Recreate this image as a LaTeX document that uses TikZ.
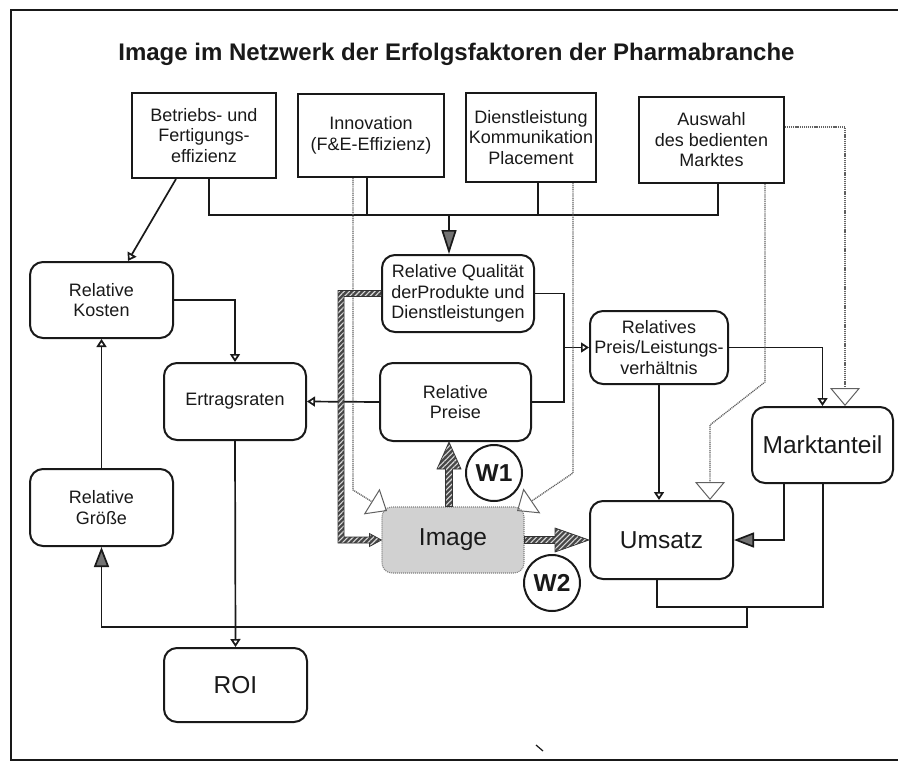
\documentclass[tikz,border=0pt]{standalone}
\usepackage{fontspec}
\setmainfont{Liberation Sans}
\usetikzlibrary{arrows.meta,calc,patterns.meta}
\definecolor{ink}{gray}{0.1}
\newcommand\dgBoxFont{\fontsize{18}{20.5}\selectfont}
\newcommand\dgBigFont{\fontsize{24.5}{27}\selectfont}

\begin{document}
\begin{tikzpicture}[x=1pt,y=-1pt,
  sqbox/.style={draw=ink, line width=2pt, align=center, inner sep=0pt, font=\dgBoxFont, text=ink},
  rbox/.style={sqbox, rounded corners=13pt},
  big/.style={font=\dgBigFont},
  imgbox/.style={fill=black!18, draw=black!50, line width=1.1pt, dash pattern=on 1pt off 1pt,
                 rounded corners=10pt, inner sep=0pt, font=\dgBigFont, text=ink},
  ring/.style={circle, draw=ink, line width=2pt, minimum size=56pt, inner sep=0pt,
               font=\bfseries\dgBigFont, text=ink},
  conn/.style={draw=ink, line width=1.7pt},
  opentip/.style={-{Triangle[open,length=8pt,width=10pt]}},
  filledtip/.style={-{Triangle[length=20pt,width=15pt,fill=black!55]}},
  bigtip/.style={-{Triangle[length=24pt,width=15pt,fill=black!55]}},
  hint/.style={draw=black!62, line width=1.3pt, dash pattern=on 1.1pt off 0.8pt,
               -{Triangle[open,length=18pt,width=30pt,line width=1pt]}},
  hatch/.style={preaction={fill=black!72},
                pattern={Lines[angle=45,distance=3.6pt,line width=1.1pt]},
                pattern color=white!85!black, draw=black!80, line width=0.7pt}
]
\useasboundingbox (0,0) rectangle (898,763);

% frame
\draw[ink, line width=2pt] (898,10) -- (11,10) -- (11,760) -- (898,760);

% title
\node[font=\bfseries\fontsize{24}{28}\selectfont, text=ink, anchor=base] (title) at (456.5,60)
  {Image im Netzwerk der Erfolgsfaktoren der Pharmabranche};

% success factors (top row)
\node[sqbox, minimum width=144pt, minimum height=85pt] (betr) at (204,135.5) {Betriebs- und\\Fertigungs-\\effizienz};
\node[sqbox, minimum width=146pt, minimum height=83pt] (inno) at (371,135.5) {Innovation\\(F\&E-Effizienz)};
\node[sqbox, minimum width=130pt, minimum height=89pt] (dienst) at (531,137.5) {Dienstleistung\\Kommunikation\\Placement};
\node[sqbox, minimum width=145pt, minimum height=86pt] (auswahl) at (711.5,140) {Auswahl\\des bedienten\\Marktes};

% network nodes
\node[rbox, minimum width=152pt, minimum height=77pt] (qual) at (458,293.5) {Relative Qualität\\derProdukte und\\Dienstleistungen};
\node[rbox, minimum width=143pt, minimum height=76pt] (kosten) at (101.5,300) {Relative\\Kosten};
\node[rbox, minimum width=142pt, minimum height=77pt] (ertrag) at (235,401.5) {Ertragsraten};
\node[rbox, minimum width=151pt, minimum height=78pt] (preise) at (455.5,402) {Relative\\Preise};
\node[rbox, minimum width=138pt, minimum height=73pt] (pl) at (659,347.5) {Relatives\\Preis/Leistungs-\\verhältnis};
\node[rbox, big, minimum width=141pt, minimum height=76pt] (markt) at (822.5,445) {Marktanteil};
\node[rbox, minimum width=143pt, minimum height=77pt] (groesse) at (101.5,507.5) {Relative\\Größe};
\node[rbox, big, minimum width=143pt, minimum height=78pt] (umsatz) at (661.5,540) {Umsatz};
\node[rbox, big, minimum width=143pt, minimum height=74pt] (roi) at (235.5,685) {ROI};
\node[imgbox, minimum width=142pt, minimum height=66pt] (image) at (453,540) {Image};
\node[ring] (w1) at (494,473) {W1};
\node[ring] (w2) at (552,583) {W2};

% collecting bus into product quality
\coordinate (busL) at (209,215);
\coordinate (bus2) at (367,215);
\coordinate (bus3) at (538,215);
\coordinate (busR) at (718,215);
\coordinate (busQ) at (449,215);
\draw[conn] (betr.south -| busL) -- (busL) -- (busR) -- (auswahl.south -| busR);
\draw[conn] (inno.south -| bus2) -- (bus2);
\draw[conn] (dienst.south -| bus3) -- (bus3);
\draw[conn, bigtip] (busQ) -- (qual.north -| busQ);

% cost side
\coordinate (dg1) at (176,0);
\coordinate (dg2) at (128,0);
\draw[conn, opentip] (betr.south -| dg1) -- (kosten.north -| dg2);
\draw[conn, opentip] (kosten.east) -| (ertrag.north);
\draw[conn, opentip] (groesse.north) -- (kosten.south);
\draw[conn, opentip] (preise.west) -- (ertrag.east);
\draw[conn, opentip] (ertrag.south) -- (roi.north);

% price/performance
\coordinate (jq) at (564,347.5);
\draw[conn] (qual.east) -| (jq) |- (preise.east);
\draw[conn, opentip] (jq) -- (pl.west);
\draw[conn, opentip] (pl.east) -| (markt.north);
\draw[conn, opentip] (pl.south) -- (pl.south |- umsatz.north);

% market share and sales
\coordinate (mx) at (784,0);
\draw[conn, filledtip] (markt.south -| mx) |- (umsatz.east);
\coordinate (fu) at (657,607);
\coordinate (fm) at (823,607);
\coordinate (fb) at (747,607);
\coordinate (fg) at (747,627);
\draw[conn] (umsatz.south -| fu) -- (fu) -- (fm) -- (markt.south -| fm);
\draw[conn, filledtip] (fb) -- (fg) -| (groesse.south);

% dotted influences
\coordinate (da) at (353,490);
\coordinate (ta) at (387,511);
\draw[hint] (inno.south -| da) -- (da) -- (ta);
\coordinate (db) at (573,473);
\coordinate (tb) at (517,511);
\draw[hint] (dienst.south -| db) -- (db) -- (tb);
\coordinate (dc1) at (765,382);
\coordinate (dc2) at (710,425);
\draw[hint] (auswahl.south -| dc1) -- (dc1) -- (dc2) -- (umsatz.north -| dc2);
\coordinate (dd) at (845,127);
\draw[hint] (auswahl.east |- dd) -- (dd) -- (markt.north -| dd);

% hatched image paths
\coordinate (hx) at (341,0);
\coordinate (hq) at (qual.west);
\coordinate (hi) at (image.west);
\coordinate (hqx) at (hq -| hx);
\coordinate (hix) at (hi -| hx);
\path[hatch] ($(hq)+(0,-3)$) -- ($(hqx)+(-3,-3)$) -- ($(hix)+(-3,3)$) -- ($(hi)+(-12,3)$)
  -- ($(hi)+(-12,6.5)$) -- (hi) -- ($(hi)+(-12,-6.5)$) -- ($(hi)+(-12,-3)$)
  -- ($(hix)+(3,-3)$) -- ($(hqx)+(3,3)$) -- ($(hq)+(0,3)$) -- cycle;

\coordinate (wx) at (449,0);
\coordinate (w1a) at (image.north -| wx);
\coordinate (w1b) at (preise.south -| wx);
\path[hatch] ($(w1a)+(-3.5,0)$) -- ($(w1b)+(-3.5,27)$) -- ($(w1b)+(-12,27)$) -- (w1b)
  -- ($(w1b)+(12,27)$) -- ($(w1b)+(3.5,27)$) -- ($(w1a)+(3.5,0)$) -- cycle;

\coordinate (w2a) at (image.east);
\coordinate (w2b) at (umsatz.west);
\path[hatch] ($(w2a)+(0,-3.5)$) -- ($(w2b)+(-34,-3.5)$) -- ($(w2b)+(-34,-12)$) -- (w2b)
  -- ($(w2b)+(-34,12)$) -- ($(w2b)+(-34,3.5)$) -- ($(w2a)+(0,3.5)$) -- cycle;

% small stray stroke near the bottom edge
\draw[ink, line width=1.2pt] (536,745) -- (543,751);
\end{tikzpicture}
\end{document}
